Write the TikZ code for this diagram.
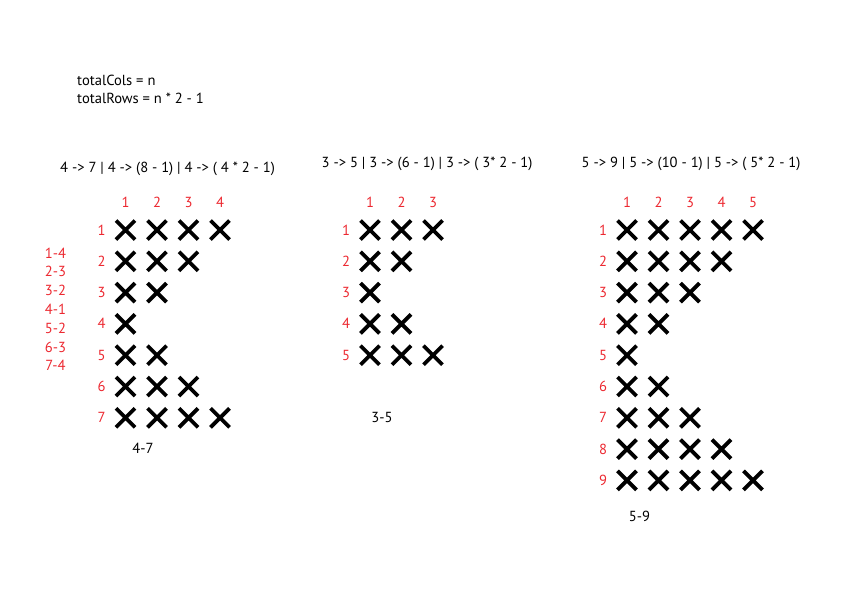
\documentclass[tikz,border=0pt]{standalone}
\usepackage{fontspec}
\setmainfont{PT Sans}
\usetikzlibrary{shapes.misc}
\definecolor{lblred}{RGB}{236,40,48}
\begin{document}
\begin{tikzpicture}[x=1pt,y=-1pt,
  xmark/.style={cross out,draw=black,line width=3.8pt,minimum size=15.2pt,inner sep=0pt},
  redlbl/.style={text=lblred,font=\fontsize{14.6}{16}\selectfont,inner sep=0pt,anchor=base},
  blk/.style={text=black,font=\fontsize{14.6}{16}\selectfont,inner sep=0pt,anchor=base west},
  blkc/.style={text=black,font=\fontsize{14.6}{16}\selectfont,inner sep=0pt,anchor=base}]
\useasboundingbox (0,0) rectangle (842,595);
\node[blk] (tc) at (77,85) {totalCols = n};
\node[blk] (tr) at (77,103.5) {totalRows = n * 2 - 1};
\node[blk] (h1) at (60,172) {4 -> 7 | 4 -> (8 - 1) | 4 -> ( 4 * 2 - 1)};
\node[blk] (h2) at (321.5,167) {3 -> 5 | 3 -> (6 - 1) | 3 -> ( 3* 2 - 1)};
\node[blk] (h3) at (581.5,167) {5 -> 9 | 5 -> (10 - 1) | 5 -> ( 5* 2 - 1)};
\foreach \t [count=\i] in {1-4,2-3,3-2,4-1,5-2,6-3,7-4}
  \node[redlbl] (l\i) at ({55.5},{258+(\i-1)*18.8}) {\t};
\foreach \g/\n/\xo in {a/4/125.5, b/3/370, c/5/627} {
  \foreach \c in {1,...,\n}
    \node[redlbl] (\g-h\c) at ({\xo+(\c-1)*31.5},207) {\c};
  \pgfmathtruncatemacro\rows{2*\n-1}
  \foreach \r in {1,...,\rows} {
    \node[redlbl] (\g-r\r) at ({\xo-24},{235+(\r-1)*31.3}) {\r};
    \pgfmathtruncatemacro\k{abs(\n-\r)+1}
    \foreach \c in {1,...,\k}
      \node[xmark] (\g-\r-\c) at ({\xo+(\c-1)*31.5},{230+(\r-1)*31.3}) {};
  }
}
\node[blkc] (ca) at (143,453) {4-7};
\node[blkc] (cb) at (382,422) {3-5};
\node[blkc] (cc) at (639.5,521.5) {5-9};
\end{tikzpicture}
\end{document}
